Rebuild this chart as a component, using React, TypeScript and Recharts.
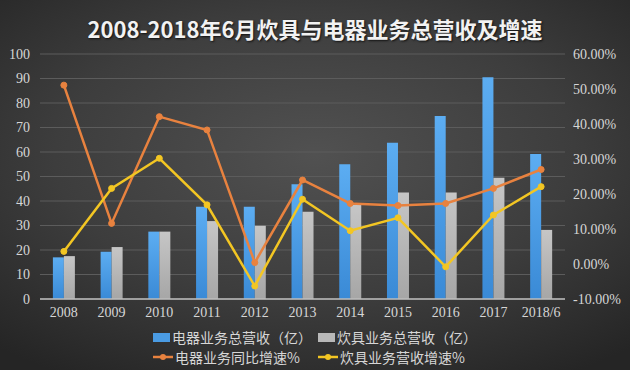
import {
  ComposedChart,
  Bar,
  Line,
  XAxis,
  YAxis,
  CartesianGrid,
} from 'recharts'

const categories = ['2008', '2009', '2010', '2011', '2012', '2013', '2014', '2015', '2016', '2017', '2018/6']
// 总营收（亿）
const applianceRevenue = [17, 19.3, 27.5, 37.7, 37.7, 46.8, 55, 63.8, 74.7, 90.5, 59.2]
const cookwareRevenue = [17.5, 21.2, 27.5, 31.8, 29.9, 35.6, 38.5, 43.5, 43.5, 49.5, 28.2]
// 增速（%）
const applianceGrowth = [51.1, 11.6, 42.1, 38.3, 0.4, 24, 17.3, 16.7, 17.3, 21.6, 27]
const cookwareGrowth = [3.6, 21.6, 30.2, 16.9, -6.3, 18.5, 9.5, 13.2, -0.8, 14, 22.1]

const leftTicks = [0, 10, 20, 30, 40, 50, 60, 70, 80, 90, 100]
const rightTicks = [-10, 0, 10, 20, 30, 40, 50, 60]

const data = categories.map((name, i) => ({
  name,
  appliance: applianceRevenue[i],
  cookware: cookwareRevenue[i],
  applianceGrowth: applianceGrowth[i],
  cookwareGrowth: cookwareGrowth[i],
}))

const serif = '"Liberation Serif", "Times New Roman", serif'
const cjk = '"Noto Sans CJK SC", "Noto Sans", sans-serif'
const tickStyle = { fontSize: 14, fill: '#d6d6d6', fontFamily: serif }

const ORANGE = '#e8823f'
const YELLOW = '#f3c623'

function LineIcon({ color }: { color: string }) {
  return (
    <svg width={20} height={10} style={{ marginRight: 2 }}>
      <line x1={0} y1={5} x2={20} y2={5} stroke={color} strokeWidth={2.5} />
      <circle cx={10} cy={5} r={3} fill={color} />
    </svg>
  )
}

function BoxIcon({ color }: { color: string }) {
  return <span style={{ display: 'inline-block', width: 17, height: 9, background: color, marginRight: 2 }} />
}

const legendItems = [
  { label: '电器业务总营收（亿）', icon: <BoxIcon color="#4a9be3" /> },
  { label: '炊具业务总营收（亿）', icon: <BoxIcon color="#b8b8b8" /> },
  { label: '电器业务同比增速%', icon: <LineIcon color={ORANGE} /> },
  { label: '炊具业务营收增速%', icon: <LineIcon color={YELLOW} /> },
]

export default function App() {
  return (
    <div
      style={{
        position: 'absolute',
        left: 0,
        top: 0,
        width: 630,
        height: 370,
        overflow: 'hidden',
        fontFamily: serif,
        background: 'radial-gradient(ellipse 75% 70% at 50% 42%, #515151 0%, #3d3d3d 55%, #252525 100%)',
      }}
    >
      <style>{`.recharts-cartesian-axis-tick-value { font-family: ${serif}; }`}</style>
      <div
        style={{
          position: 'absolute',
          left: 0,
          top: 14,
          width: 630,
          textAlign: 'center',
          fontFamily: cjk,
          fontWeight: 700,
          fontSize: 22,
          lineHeight: '28px',
          color: '#f2f2f2',
          textShadow: '1px 1px 2px #111',
        }}
      >
        2008-2018年6月炊具与电器业务总营收及增速
      </div>
      <ComposedChart
        width={630}
        height={370}
        data={data}
        margin={{ top: 54, right: 0, bottom: 41, left: 0 }}
        barCategoryGap="27%"
        barGap={0}
      >
        <defs>
          <linearGradient id="blueBar" x1="0" y1="0" x2="0" y2="1">
            <stop offset="0%" stopColor="#5cadf2" />
            <stop offset="100%" stopColor="#3a8ad6" />
          </linearGradient>
          <linearGradient id="grayBar" x1="0" y1="0" x2="0" y2="1">
            <stop offset="0%" stopColor="#c6c6c6" />
            <stop offset="100%" stopColor="#a6a6a6" />
          </linearGradient>
        </defs>
        <CartesianGrid yAxisId="left" vertical={false} stroke="#5c5c5c" />
        <XAxis
          dataKey="name"
          height={30}
          tick={tickStyle}
          tickLine={false}
          axisLine={{ stroke: '#bdbdbd', strokeWidth: 1.5 }}
        />
        <YAxis
          yAxisId="left"
          width={40}
          domain={[0, 100]}
          ticks={leftTicks}
          interval={0}
          tick={tickStyle}
          tickLine={false}
          axisLine={false}
          tickMargin={4}
        />
        <YAxis
          yAxisId="right"
          orientation="right"
          width={65}
          domain={[-10, 60]}
          ticks={rightTicks}
          interval={0}
          tick={tickStyle}
          tickLine={false}
          axisLine={false}
          tickFormatter={(v: number) => `${v.toFixed(2)}%`}
        />
        <Bar yAxisId="left" dataKey="appliance" fill="url(#blueBar)" isAnimationActive={false} />
        <Bar yAxisId="left" dataKey="cookware" fill="url(#grayBar)" isAnimationActive={false} />
        <Line
          yAxisId="right"
          dataKey="applianceGrowth"
          type="linear"
          stroke={ORANGE}
          strokeWidth={2.5}
          dot={{ r: 3, fill: ORANGE, stroke: ORANGE, strokeWidth: 1 }}
          isAnimationActive={false}
        />
        <Line
          yAxisId="right"
          dataKey="cookwareGrowth"
          type="linear"
          stroke={YELLOW}
          strokeWidth={2.5}
          dot={{ r: 3, fill: YELLOW, stroke: YELLOW, strokeWidth: 1 }}
          isAnimationActive={false}
        />
      </ComposedChart>
      <div
        style={{
          position: 'absolute',
          left: 153,
          top: 327,
          width: 340,
          display: 'grid',
          gridTemplateColumns: '165px 175px',
          rowGap: 0,
          fontFamily: cjk,
          fontSize: 14,
          lineHeight: '20px',
          color: '#d6d6d6',
        }}
      >
        {legendItems.map((item) => (
          <div key={item.label} style={{ display: 'flex', alignItems: 'center', whiteSpace: 'nowrap' }}>
            {item.icon}
            <span>{item.label}</span>
          </div>
        ))}
      </div>
    </div>
  )
}
